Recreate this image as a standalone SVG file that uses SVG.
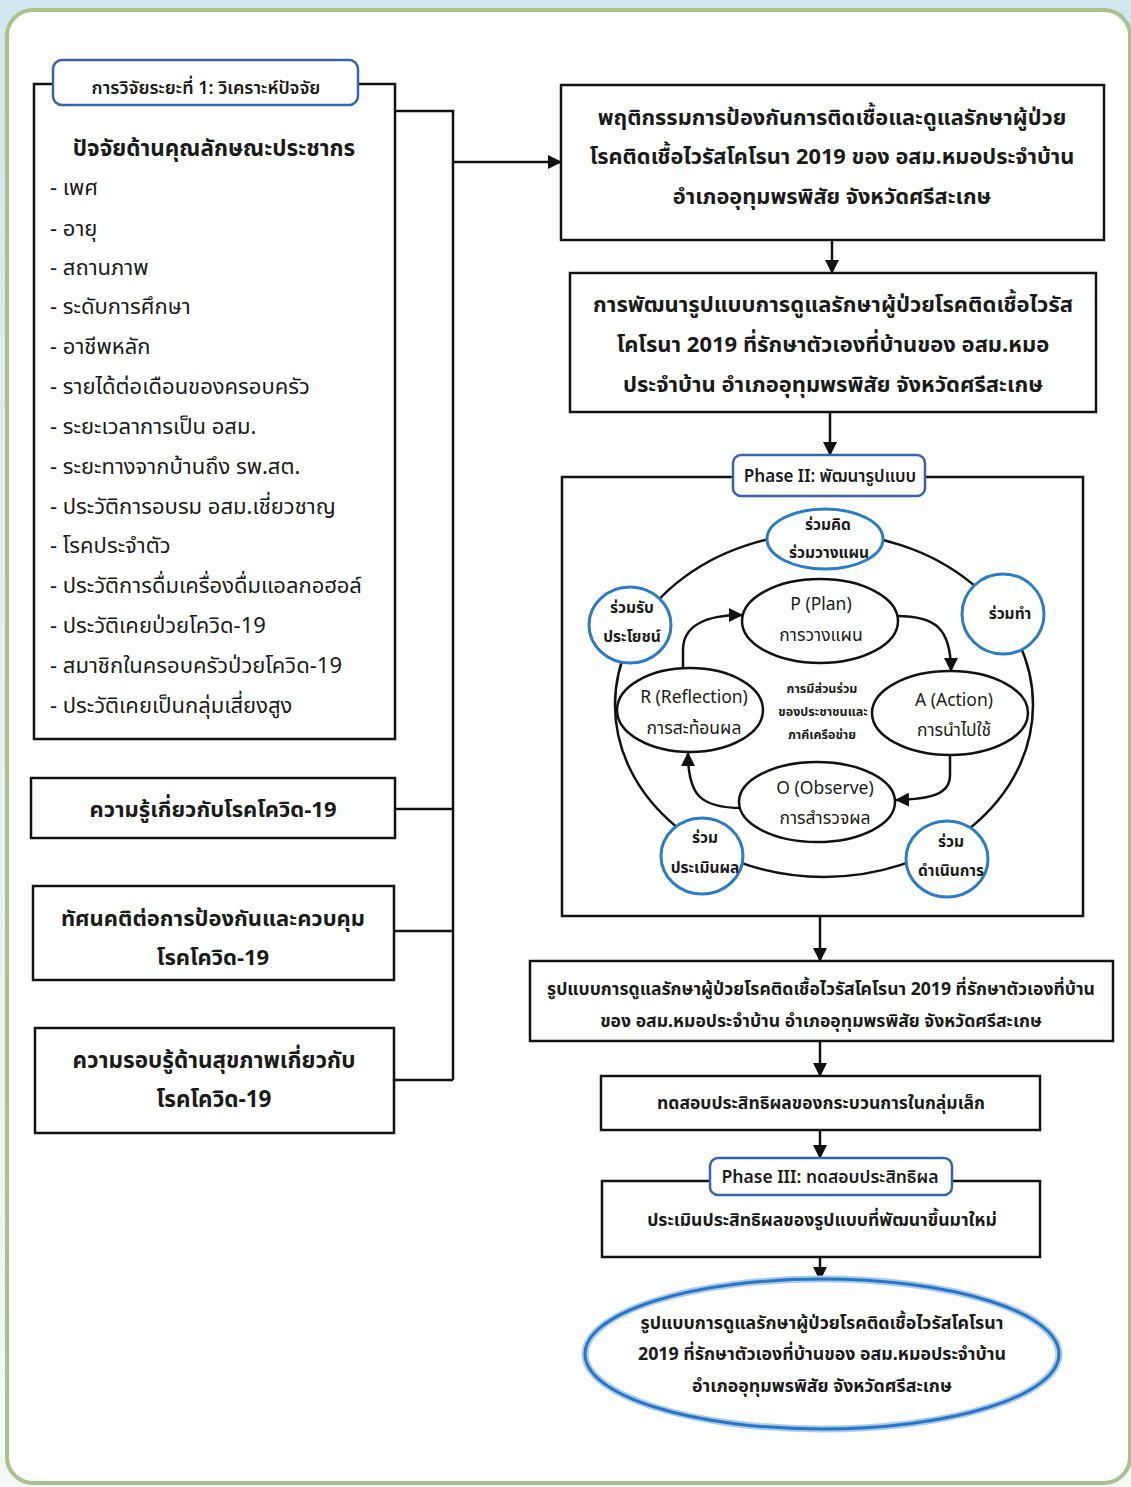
<svg xmlns="http://www.w3.org/2000/svg" width="1131" height="1487" viewBox="0 0 1131 1487">
  <defs>
    <linearGradient id="bg" x1="0" y1="0" x2="0" y2="1">
      <stop offset="0" stop-color="#d2e6ef"/>
      <stop offset="0.5" stop-color="#e6f0f2"/>
      <stop offset="1" stop-color="#f4f8f4"/>
    </linearGradient>
    <marker id="arrow" viewBox="0 0 14 14" refX="13" refY="7" markerWidth="14" markerHeight="14" markerUnits="userSpaceOnUse" orient="auto">
      <path d="M0,0 L14,7 L0,14 z" fill="#111"/>
    </marker>
    <style>
      .th { font-family: 'Noto Sans Thai', 'Leelawadee UI', Tahoma, 'DejaVu Sans', sans-serif; fill: #1a1a1a; }
      .b { font-weight: bold; }
      .sb { font-weight: 600; }
      .box { fill: #fff; stroke: #111; stroke-width: 2.5; }
      .tag { fill: #fff; stroke: #3a62ad; stroke-width: 2.5; }
      .blue { fill: #fff; stroke: #2a7cc8; stroke-width: 3; }
      .oval { fill: #fff; stroke: #111; stroke-width: 2.5; }
      .line { fill: none; stroke: #111; stroke-width: 2.5; }
      .arr { fill: none; stroke: #111; stroke-width: 2.5; marker-end: url(#arrow); }
      .item { font-size: 22px; }
      .pdca { font-size: 17.5px; }
      .mid { text-anchor: middle; }
    </style>
  </defs>

  <!-- page backdrop and card -->
  <rect x="0" y="0" width="1131" height="1487" fill="url(#bg)"/>
  <rect x="7" y="10" width="1123" height="1473" rx="26" fill="#fff" stroke="#a9c18c" stroke-width="4"/>

  <!-- connectors -->
  <g id="connectors">
    <path class="line" d="M395 111 H453 V1080"/>
    <path class="line" d="M395 809 H453"/>
    <path class="line" d="M394 931 H453"/>
    <path class="line" d="M394 1080 H453"/>
    <path class="arr" d="M453 162 H561"/>
    <path class="arr" d="M832 240 V273"/>
    <path class="arr" d="M830 412 V455"/>
    <path class="arr" d="M820 916 V961"/>
    <path class="arr" d="M820 1041 V1076"/>
    <path class="arr" d="M820 1130 V1158"/>
    <path class="arr" d="M820 1257 V1280"/>
  </g>

  <!-- phase 1: demographic factors -->
  <g id="factors">
    <rect class="box" x="34" y="84" width="361" height="655"/>
    <rect class="tag" x="53" y="60" width="305" height="45" rx="9"/>
    <text class="th sb mid" x="206" y="94" font-size="18">การวิจัยระยะที่ 1: วิเคราะห์ปัจจัย</text>
    <text class="th b mid" x="214" y="156" font-size="22.5">ปัจจัยด้านคุณลักษณะประชากร</text>
    <g class="th item">
      <text x="50" y="195">- เพศ</text>
      <text x="50" y="236">- อายุ</text>
      <text x="50" y="275">- สถานภาพ</text>
      <text x="50" y="314">- ระดับการศึกษา</text>
      <text x="50" y="354">- อาชีพหลัก</text>
      <text x="50" y="394">- รายได้ต่อเดือนของครอบครัว</text>
      <text x="50" y="434">- ระยะเวลาการเป็น อสม.</text>
      <text x="50" y="474">- ระยะทางจากบ้านถึง รพ.สต.</text>
      <text x="50" y="514">- ประวัติการอบรม อสม.เชี่ยวชาญ</text>
      <text x="50" y="553">- โรคประจำตัว</text>
      <text x="50" y="593">- ประวัติการดื่มเครื่องดื่มแอลกอฮอล์</text>
      <text x="50" y="633">- ประวัติเคยป่วยโควิด-19</text>
      <text x="50" y="673">- สมาชิกในครอบครัวป่วยโควิด-19</text>
      <text x="50" y="713">- ประวัติเคยเป็นกลุ่มเสี่ยงสูง</text>
    </g>
  </g>

  <g id="knowledge">
    <rect class="box" x="31" y="778" width="364" height="60"/>
    <text class="th b mid" x="213" y="817" font-size="22">ความรู้เกี่ยวกับโรคโควิด-19</text>
  </g>

  <g id="attitude">
    <rect class="box" x="33" y="886" width="361" height="94"/>
    <text class="th b mid" x="213" y="926" font-size="22">ทัศนคติต่อการป้องกันและควบคุม</text>
    <text class="th b mid" x="213" y="965" font-size="22">โรคโควิด-19</text>
  </g>

  <g id="literacy">
    <rect class="box" x="35" y="1028" width="359" height="105"/>
    <text class="th b mid" x="214" y="1068" font-size="22.5">ความรอบรู้ด้านสุขภาพเกี่ยวกับ</text>
    <text class="th b mid" x="214" y="1107" font-size="22.5">โรคโควิด-19</text>
  </g>

  <!-- right column -->
  <g id="behaviour">
    <rect class="box" x="561" y="85" width="543" height="155"/>
    <text class="th b mid" x="832" y="125" font-size="21.8">พฤติกรรมการป้องกันการติดเชื้อและดูแลรักษาผู้ป่วย</text>
    <text class="th b mid" x="832" y="164" font-size="21.8">โรคติดเชื้อไวรัสโคโรนา 2019 ของ อสม.หมอประจำบ้าน</text>
    <text class="th b mid" x="832" y="204" font-size="21.8">อำเภออุทุมพรพิสัย จังหวัดศรีสะเกษ</text>
  </g>

  <g id="development">
    <rect class="box" x="570" y="273" width="526" height="139"/>
    <text class="th b mid" x="833" y="312" font-size="22">การพัฒนารูปแบบการดูแลรักษาผู้ป่วยโรคติดเชื้อไวรัส</text>
    <text class="th b mid" x="833" y="352" font-size="22">โคโรนา 2019 ที่รักษาตัวเองที่บ้านของ อสม.หมอ</text>
    <text class="th b mid" x="833" y="392" font-size="22">ประจำบ้าน อำเภออุทุมพรพิสัย จังหวัดศรีสะเกษ</text>
  </g>

  <!-- phase 2: participatory action cycle -->
  <g id="phase2">
    <rect class="box" x="562" y="477" width="521" height="439"/>
    <rect class="tag" x="733" y="455" width="192" height="41" rx="8"/>
    <text class="th sb mid" x="830" y="482" font-size="17">Phase II: พัฒนารูปแบบ</text>

    <ellipse class="line" cx="824" cy="705" rx="209" ry="172"/>

    <g id="cycle-arrows">
      <path class="arr" d="M897 616 C935 616 951 628 951 671"/>
      <path class="arr" d="M950 756 V775 C950 795 930 799 896 800"/>
      <path class="arr" d="M742 808 C700 808 688 795 688 753"/>
      <path class="arr" d="M683 668 V650 C683 626 705 615 742 615"/>
    </g>

    <g id="plan">
      <ellipse class="oval" cx="820" cy="621" rx="78" ry="42"/>
      <text class="th pdca mid" x="821" y="610">P (Plan)</text>
      <text class="th pdca mid" x="821" y="641">การวางแผน</text>
    </g>
    <g id="action">
      <ellipse class="oval" cx="950" cy="713" rx="78" ry="42"/>
      <text class="th pdca mid" x="954" y="706">A (Action)</text>
      <text class="th pdca mid" x="954" y="736">การนำไปใช้</text>
    </g>
    <g id="reflection">
      <ellipse class="oval" cx="690" cy="710" rx="73" ry="42"/>
      <text class="th pdca mid" x="694" y="703">R (Reflection)</text>
      <text class="th pdca mid" x="694" y="734">การสะท้อนผล</text>
    </g>
    <g id="observe">
      <ellipse class="oval" cx="817" cy="802" rx="78" ry="40"/>
      <text class="th pdca mid" x="825" y="794">O (Observe)</text>
      <text class="th pdca mid" x="825" y="824">การสำรวจผล</text>
    </g>

    <g id="centre-note" class="th b mid" font-size="12.5">
      <text x="822" y="693">การมีส่วนร่วม</text>
      <text x="823" y="716">ของประชาชนและ</text>
      <text x="822" y="739">ภาคีเครือข่าย</text>
    </g>

    <g id="co-think">
      <ellipse class="blue" cx="825" cy="539" rx="58" ry="30"/>
      <text class="th b mid" x="828" y="530" font-size="15.5">ร่วมคิด</text>
      <text class="th b mid" x="829" y="558" font-size="15.5">ร่วมวางแผน</text>
    </g>
    <g id="co-do">
      <ellipse class="blue" cx="1003" cy="614" rx="41" ry="40"/>
      <text class="th b mid" x="1010" y="619" font-size="15.5">ร่วมทำ</text>
    </g>
    <g id="co-benefit">
      <ellipse class="blue" cx="630" cy="625" rx="41" ry="38"/>
      <text class="th b mid" x="632" y="613" font-size="15.5">ร่วมรับ</text>
      <text class="th b mid" x="632" y="642" font-size="15.5">ประโยชน์</text>
    </g>
    <g id="co-evaluate">
      <ellipse class="blue" cx="702" cy="856" rx="41" ry="38"/>
      <text class="th b mid" x="705" y="843" font-size="15.5">ร่วม</text>
      <text class="th b mid" x="705" y="873" font-size="15.5">ประเมินผล</text>
    </g>
    <g id="co-operate">
      <ellipse class="blue" cx="947" cy="859" rx="41" ry="38"/>
      <text class="th b mid" x="951" y="847" font-size="15.5">ร่วม</text>
      <text class="th b mid" x="951" y="876" font-size="15.5">ดำเนินการ</text>
    </g>
  </g>

  <g id="model">
    <rect class="box" x="530" y="961" width="583" height="80"/>
    <text class="th b mid" x="821" y="995" font-size="17.6">รูปแบบการดูแลรักษาผู้ป่วยโรคติดเชื้อไวรัสโคโรนา 2019 ที่รักษาตัวเองที่บ้าน</text>
    <text class="th b mid" x="821" y="1027" font-size="17.6">ของ อสม.หมอประจำบ้าน อำเภออุทุมพรพิสัย จังหวัดศรีสะเกษ</text>
  </g>

  <g id="pilot">
    <rect class="box" x="601" y="1076" width="439" height="54"/>
    <text class="th b mid" x="821" y="1109" font-size="17.5">ทดสอบประสิทธิผลของกระบวนการในกลุ่มเล็ก</text>
  </g>

  <g id="phase3">
    <rect class="box" x="602" y="1181" width="438" height="76"/>
    <rect class="tag" x="710" y="1158" width="242" height="37" rx="8"/>
    <text class="th sb mid" x="830" y="1183" font-size="17.5">Phase III: ทดสอบประสิทธิผล</text>
    <text class="th b mid" x="822" y="1226" font-size="17.6">ประเมินประสิทธิผลของรูปแบบที่พัฒนาขึ้นมาใหม่</text>
  </g>

  <g id="outcome">
    <ellipse cx="822" cy="1354" rx="237" ry="75" fill="#fff" stroke="#a9cbec" stroke-width="7"/>
    <ellipse cx="822" cy="1354" rx="237" ry="75" fill="none" stroke="#2a74c4" stroke-width="3"/>
    <text class="th b mid" x="822" y="1329" font-size="17.8">รูปแบบการดูแลรักษาผู้ป่วยโรคติดเชื้อไวรัสโคโรนา</text>
    <text class="th b mid" x="822" y="1360" font-size="17.8">2019 ที่รักษาตัวเองที่บ้านของ อสม.หมอประจำบ้าน</text>
    <text class="th b mid" x="822" y="1392" font-size="17.8">อำเภออุทุมพรพิสัย จังหวัดศรีสะเกษ</text>
  </g>
</svg>
